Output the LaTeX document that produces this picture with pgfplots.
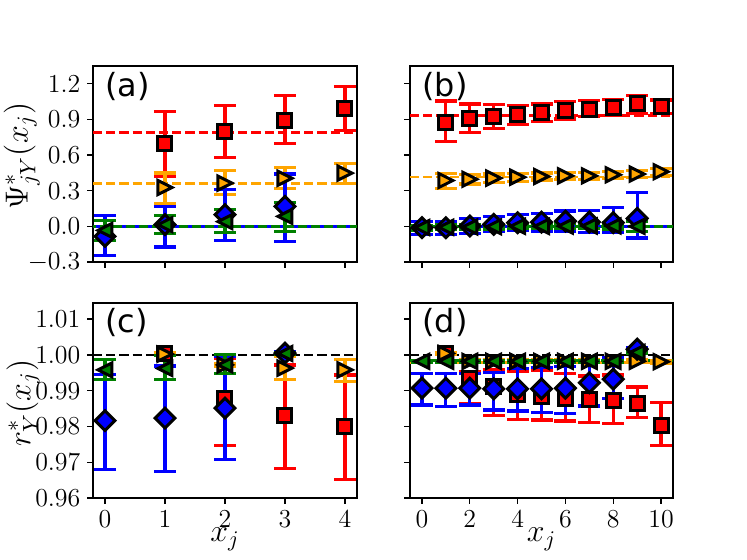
\RequirePackage{fix-cm}
\documentclass[border=0pt]{standalone}
\usepackage{fontspec}
\usepackage{pgfplots}
\pgfplotsset{compat=1.18}
\newfontfamily\dejavu{DejaVu Sans}
\definecolor{mporange}{HTML}{FFA500}
\definecolor{mpgreen}{HTML}{008000}
\definecolor{mpblue}{HTML}{0000FF}
\definecolor{mpred}{HTML}{FF0000}

\pgfdeclareplotmark{dmd}{%
  \pgfpathmoveto{\pgfqpoint{0pt}{1.4142\pgfplotmarksize}}%
  \pgfpathlineto{\pgfqpoint{1.4142\pgfplotmarksize}{0pt}}%
  \pgfpathlineto{\pgfqpoint{0pt}{-1.4142\pgfplotmarksize}}%
  \pgfpathlineto{\pgfqpoint{-1.4142\pgfplotmarksize}{0pt}}%
  \pgfpathclose\pgfusepathqfillstroke}
\pgfdeclareplotmark{rtri}{%
  \pgfpathmoveto{\pgfqpoint{\pgfplotmarksize}{0pt}}%
  \pgfpathlineto{\pgfqpoint{-\pgfplotmarksize}{\pgfplotmarksize}}%
  \pgfpathlineto{\pgfqpoint{-\pgfplotmarksize}{-\pgfplotmarksize}}%
  \pgfpathclose\pgfusepathqfillstroke}
\pgfdeclareplotmark{ltri}{%
  \pgfpathmoveto{\pgfqpoint{-\pgfplotmarksize}{0pt}}%
  \pgfpathlineto{\pgfqpoint{\pgfplotmarksize}{\pgfplotmarksize}}%
  \pgfpathlineto{\pgfqpoint{\pgfplotmarksize}{-\pgfplotmarksize}}%
  \pgfpathclose\pgfusepathqfillstroke}

\tikzset{plab/.style={anchor=base west, inner sep=0pt, font=\dejavu\fontsize{16}{19}\selectfont}}

\pgfplotsset{
  base/.style={scale only axis, axis line style={line width=0.65bp},
    every tick/.style={line width=0.65bp, black}, major tick length=2.8bp,
    tick align=outside, xtick pos=left, ytick pos=left,
    ticklabel style={font=\fontsize{13}{15}\selectfont},
    every axis x label/.style={at={(axis description cs:0.5,-0.225)}, anchor=base, inner sep=0pt, font=\fontsize{16}{19}\selectfont},
  },
  ser/.style n args={2}{only marks, mark=#1, mark size=3.5bp,
    mark options={fill=#2, draw=black, line width=1.5bp, line join=miter, solid},
    error bars/.cd, y dir=both, y explicit, error mark=|,
    error bar style={line width=1.6bp, #2, solid},
    error mark options={line width=1.6bp, mark size=5.5bp, #2, solid}},
  sR/.style={ser={square*}{mpred}},
  sO/.style={ser={rtri}{mporange}},
  sB/.style={ser={dmd}{mpblue}},
  sG/.style={ser={ltri}{mpgreen}},
  hl/.style={line width=1.3bp, dash pattern=on 4.6bp off 2bp, forget plot},
  hl2/.style={line width=1.3bp, dash pattern=on 4.6bp off 2bp, dash phase=3.3bp, forget plot},
}

\begin{document}
\begin{tikzpicture}
\useasboundingbox (0,0) rectangle (373.5bp,280bp);
% ---------------- (a)
\begin{axis}[base, at={(46.5bp,149bp)}, anchor=south west, width=132bp, height=98bp,
  xmin=-0.2, xmax=4.2, ymin=-0.3, ymax=1.35,
  xtick={0,1,2,3,4}, xticklabels={},
  ytick={-0.3,0,0.3,0.6,0.9,1.2},
  yticklabel style={/pgf/number format/.cd, fixed, fixed zerofill, precision=1},
  ylabel={$\Psi^*_{jY}(x_j)$},
  every axis y label/.style={at={(axis description cs:-0.27,0.54)}, rotate=90, anchor=center, inner sep=0pt, font=\fontsize{16}{19}\selectfont}]
\addplot[hl, mpred] coordinates {(-0.2,0.79) (4.2,0.79)};
\addplot[hl, mporange] coordinates {(-0.2,0.36) (4.2,0.36)};
\addplot[hl, mpblue] coordinates {(-0.2,0) (4.2,0)};
\addplot[hl2, mpgreen] coordinates {(-0.2,0) (4.2,0)};
\addplot[sR] coordinates {(1,0.70) +=(0,0.265) -=(0,0.28) (2,0.80) +=(0,0.22) -=(0,0.22) (3,0.895) +=(0,0.205) -=(0,0.195) (4,0.99) +=(0,0.19) -=(0,0.185)};
\addplot[sO] coordinates {(1,0.327) +=(0,0.123) -=(0,0.137) (2,0.364) +=(0,0.103) -=(0,0.098) (3,0.405) +=(0,0.09) -=(0,0.085) (4,0.448) +=(0,0.082) -=(0,0.084)};
\addplot[sB] coordinates {(0,-0.084) +=(0,0.174) -=(0,0.162) (1,0.014) +=(0,0.154) -=(0,0.187) (2,0.098) +=(0,0.21) -=(0,0.215) (3,0.168) +=(0,0.272) -=(0,0.294)};
\addplot[sG] coordinates {(0,-0.034) +=(0,0.084) -=(0,0.083) (1,0.014) +=(0,0.076) -=(0,0.074) (2,0.04) +=(0,0.1) -=(0,0.09) (3,0.084) +=(0,0.116) -=(0,0.124)};
\node[plab] at (rel axis cs:0.046,0.845) {(a)};
\end{axis}
% ---------------- (b)
\begin{axis}[base, at={(205bp,149bp)}, anchor=south west, width=131.5bp, height=98bp,
  xmin=-0.5, xmax=10.5, ymin=-0.3, ymax=1.35,
  xtick={0,2,4,6,8,10}, xticklabels={},
  ytick={-0.3,0,0.3,0.6,0.9,1.2}, yticklabels={}]
\addplot[hl, mpred] coordinates {(-0.5,0.935) (10.5,0.935)};
\addplot[hl, mporange] coordinates {(-0.5,0.414) (10.5,0.414)};
\addplot[hl, mpblue] coordinates {(-0.5,0) (10.5,0)};
\addplot[hl2, mpgreen] coordinates {(-0.5,0) (10.5,0)};
\addplot[sR] coordinates {(1,0.875) +=(0,0.18) -=(0,0.16) (2,0.905) +=(0,0.125) -=(0,0.115) (3,0.923) +=(0,0.1) -=(0,0.1) (4,0.94) +=(0,0.075) -=(0,0.085) (5,0.955) +=(0,0.075) -=(0,0.075) (6,0.973) +=(0,0.075) -=(0,0.07) (7,0.987) +=(0,0.075) -=(0,0.065) (8,1.0) +=(0,0.07) -=(0,0.065) (9,1.035) +=(0,0.065) -=(0,0.085) (10,1.008) +=(0,0.055) -=(0,0.06)};
\addplot[sO] coordinates {(1,0.386) +=(0,0.06) -=(0,0.066) (2,0.397) +=(0,0.04) -=(0,0.04) (3,0.406) +=(0,0.035) -=(0,0.035) (4,0.414) +=(0,0.033) -=(0,0.033) (5,0.42) +=(0,0.03) -=(0,0.03) (6,0.425) +=(0,0.03) -=(0,0.03) (7,0.425) +=(0,0.03) -=(0,0.03) (8,0.434) +=(0,0.03) -=(0,0.03) (9,0.44) +=(0,0.03) -=(0,0.03) (10,0.46) +=(0,0.03) -=(0,0.03)};
\addplot[sB] coordinates {(0,-0.011) +=(0,0.05) -=(0,0.06) (1,-0.011) +=(0,0.055) -=(0,0.06) (2,0.003) +=(0,0.06) -=(0,0.06) (3,0.017) +=(0,0.065) -=(0,0.06) (4,0.031) +=(0,0.07) -=(0,0.065) (5,0.036) +=(0,0.075) -=(0,0.08) (6,0.044) +=(0,0.085) -=(0,0.085) (7,0.036) +=(0,0.1) -=(0,0.09) (8,0.031) +=(0,0.13) -=(0,0.08) (9,0.067) +=(0,0.22) -=(0,0.165)};
\addplot[sG] coordinates {(0,-0.01) +=(0,0.02) -=(0,0.02) (1,-0.008) +=(0,0.02) -=(0,0.02) (2,-0.005) +=(0,0.02) -=(0,0.02) (3,-0.003) +=(0,0.02) -=(0,0.02) (4,0.0) +=(0,0.02) -=(0,0.02) (5,0.0) +=(0,0.02) -=(0,0.02) (6,0.002) +=(0,0.02) -=(0,0.02) (7,0.003) +=(0,0.02) -=(0,0.02) (8,0.003) +=(0,0.025) -=(0,0.025) (9,0.0) +=(0,0.045) -=(0,0.045)};
\node[plab] at (rel axis cs:0.046,0.845) {(b)};
\end{axis}
% ---------------- (c)
\begin{axis}[base, at={(46.5bp,31bp)}, anchor=south west, width=132bp, height=97.5bp,
  xmin=-0.2, xmax=4.2, ymin=0.96, ymax=1.0145,
  xtick={0,1,2,3,4},
  ytick={0.96,0.97,0.98,0.99,1.00,1.01},
  yticklabel style={/pgf/number format/.cd, fixed, fixed zerofill, precision=2},
  xlabel={$x_j$}, ylabel={$r^*_Y(x_j)$},
  every axis y label/.style={at={(axis description cs:-0.265,0.487)}, rotate=90, anchor=center, inner sep=0pt, font=\fontsize{16}{19}\selectfont}]
\addplot[hl, black] coordinates {(-0.2,1.0) (4.2,1.0)};
\addplot[sR] coordinates {(1,1.0003) +=(0,0.0003) -=(0,0.0003) (2,0.9879) +=(0,0.011) -=(0,0.0133) (3,0.983) +=(0,0.0142) -=(0,0.0148) (4,0.98) +=(0,0.0144) -=(0,0.0149)};
\addplot[sO] coordinates {(1,1.0002) +=(0,0.0003) -=(0,0.0003) (2,0.9972) +=(0,0.0003) -=(0,0.0003) (3,0.9963) +=(0,0.0032) -=(0,0.0031) (4,0.9958) +=(0,0.003) -=(0,0.0033)};
\addplot[sB] coordinates {(0,0.9816) +=(0,0.013) -=(0,0.0137) (1,0.9823) +=(0,0.0146) -=(0,0.015) (2,0.9851) +=(0,0.0144) -=(0,0.0144) (3,1.0005) +=(0,0.0003) -=(0,0.0003)};
\addplot[sG] coordinates {(0,0.9958) +=(0,0.003) -=(0,0.0026) (1,0.9962) +=(0,0.0036) -=(0,0.003) (2,0.9972) +=(0,0.0028) -=(0,0.0023) (3,1.0004) +=(0,0.0003) -=(0,0.0003)};
\node[plab] at (rel axis cs:0.046,0.848) {(c)};
\end{axis}
% ---------------- (d)
\begin{axis}[base, at={(205bp,31bp)}, anchor=south west, width=131.5bp, height=97.5bp,
  xmin=-0.5, xmax=10.5, ymin=0.96, ymax=1.0145,
  xtick={0,2,4,6,8,10},
  ytick={0.96,0.97,0.98,0.99,1.00,1.01}, yticklabels={},
  xlabel={$x_j$}]
\addplot[hl, black] coordinates {(-0.5,1.0) (10.5,1.0)};
\addplot[hl, mporange] coordinates {(-0.5,0.9979) (10.5,0.9979)};
\addplot[hl2, mpgreen] coordinates {(-0.5,0.9984) (10.5,0.9984)};
\addplot[sR] coordinates {(1,1.0004) +=(0,0.0003) -=(0,0.0003) (2,0.9935) +=(0,0.0017) -=(0,0.0072) (3,0.9911) +=(0,0.0047) -=(0,0.0081) (4,0.9888) +=(0,0.0065) -=(0,0.0068) (5,0.9883) +=(0,0.0075) -=(0,0.0065) (6,0.9879) +=(0,0.007) -=(0,0.0064) (7,0.9874) +=(0,0.0067) -=(0,0.0064) (8,0.9872) +=(0,0.0072) -=(0,0.0063) (9,0.9864) +=(0,0.0046) -=(0,0.004) (10,0.9804) +=(0,0.0062) -=(0,0.0058)};
\addplot[sO] coordinates {(1,1.0004) +=(0,0.0003) -=(0,0.0003) (2,0.9982) +=(0,0.0004) -=(0,0.0004) (3,0.9982) +=(0,0.0004) -=(0,0.0004) (4,0.9982) +=(0,0.0004) -=(0,0.0004) (5,0.9982) +=(0,0.0004) -=(0,0.0004) (6,0.9982) +=(0,0.0004) -=(0,0.0004) (7,0.9982) +=(0,0.0004) -=(0,0.0004) (8,0.9982) +=(0,0.0004) -=(0,0.0004) (9,0.9982) +=(0,0.0004) -=(0,0.0004) (10,0.9981) +=(0,0.0004) -=(0,0.0004)};
\addplot[sB] coordinates {(0,0.9907) +=(0,0.0042) -=(0,0.0047) (1,0.9907) +=(0,0.0042) -=(0,0.0052) (2,0.9907) +=(0,0.0042) -=(0,0.0047) (3,0.9905) +=(0,0.0046) -=(0,0.0059) (4,0.9905) +=(0,0.0058) -=(0,0.0062) (5,0.9905) +=(0,0.006) -=(0,0.0066) (6,0.9907) +=(0,0.006) -=(0,0.007) (7,0.9922) +=(0,0.006) -=(0,0.0065) (8,0.9932) +=(0,0.006) -=(0,0.0055) (9,1.0016) +=(0,0.0004) -=(0,0.0004)};
\addplot[sG] coordinates {(0,0.9982) +=(0,0.0003) -=(0,0.0003) (1,0.9982) +=(0,0.0003) -=(0,0.0003) (2,0.9982) +=(0,0.0003) -=(0,0.0003) (3,0.9982) +=(0,0.0003) -=(0,0.0003) (4,0.9982) +=(0,0.0003) -=(0,0.0003) (5,0.9982) +=(0,0.0003) -=(0,0.0003) (6,0.9982) +=(0,0.0003) -=(0,0.0003) (7,0.9982) +=(0,0.0003) -=(0,0.0003) (8,0.9982) +=(0,0.0003) -=(0,0.0003) (9,1.0007) +=(0,0.0003) -=(0,0.0003)};
\node[plab] at (rel axis cs:0.046,0.848) {(d)};
\end{axis}
\end{tikzpicture}
\end{document}
